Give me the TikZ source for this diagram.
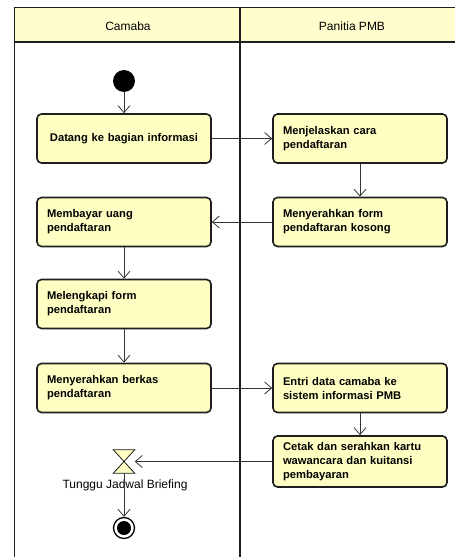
\documentclass[tikz,border=0pt]{standalone}
\usepackage{fontspec}
\setmainfont{Liberation Sans}
\usetikzlibrary{arrows.meta}
\definecolor{boxfill}{RGB}{255,255,195}
\definecolor{headfill}{RGB}{255,253,205}
\definecolor{edge}{RGB}{30,30,30}
\begin{document}
\begin{tikzpicture}[x=1pt,y=-1pt,
  actbox/.style={draw=edge, line width=1.6pt, fill=boxfill, rounded corners=4.5pt,
    minimum width=174pt, minimum height=49pt, text width=154pt, align=left,
    inner sep=0pt, font=\fontsize{11.2}{14}\selectfont\bfseries},
  flow/.style={draw=edge!90, line width=0.8pt, -{Straight Barb[length=7pt,width=12pt]}},
  lbl/.style={font=\fontsize{12}{14}\selectfont},
  lane/.style={draw=edge, line width=1.8pt}]
\useasboundingbox (0,0) rectangle (455,557);
% header
\fill[headfill] (14.5,7.5) rectangle (460,42);
\draw[lane] (14.5,562) -- (14.5,7.5) -- (460,7.5);
\draw[lane] (14.5,42) -- (460,42);
\draw[lane] (240,7.5) -- (240,562);
\node[lbl] (h1) at (128,26) {Camaba};
\node[lbl] (h2) at (352,26) {Panitia PMB};
% nodes
\node[circle, fill=black, minimum size=22pt, inner sep=0pt] (init) at (124,81) {};
\node[actbox, align=center] (b1) at (124,138.5) {Datang ke bagian informasi};
\node[actbox] (b2) at (360,138.5) {Menjelaskan cara\\pendaftaran};
\node[actbox] (b3) at (360,222) {Menyerahkan form\\pendaftaran kosong};
\node[actbox] (b4) at (124,222) {Membayar uang\\pendaftaran};
\node[actbox] (b5) at (124,304) {Melengkapi form\\pendaftaran};
\node[actbox] (b6) at (124,388) {Menyerahkan berkas\\pendaftaran};
\node[actbox] (b7) at (360,388) {Entri data camaba ke\\sistem informasi PMB};
\node[actbox, minimum height=51pt] (b8) at (360,461.5) {Cetak dan serahkan kartu\\wawancara dan kuitansi\\pembayaran};
\node[minimum width=21pt, minimum height=23pt, inner sep=0pt] (wait) at (124,461.5) {};
\filldraw[fill=boxfill, draw=edge, line width=0.8pt]
  (wait.north west) -- (wait.north east) -- (wait.south west) -- (wait.south east) -- cycle;
\node[lbl, anchor=north] (waitlbl) at (125,476) {Tunggu Jadwal Briefing};
\node[circle, draw=black, line width=1.3pt, minimum size=21pt, inner sep=0pt] (final) at (124,528) {};
\fill[black] (final.center) circle (7pt);
% flows
\draw[flow] (init) -- (b1);
\draw[flow] (b1) -- (b2);
\draw[flow] (b2) -- (b3);
\draw[flow] (b3) -- (b4);
\draw[flow] (b4) -- (b5);
\draw[flow] (b5) -- (b6);
\draw[flow] (b6) -- (b7);
\draw[flow] (b7) -- (b8);
\draw[flow] (b8.west) -- (wait.east);
\draw[flow] (wait.south) -- (final);
\end{tikzpicture}
\end{document}
